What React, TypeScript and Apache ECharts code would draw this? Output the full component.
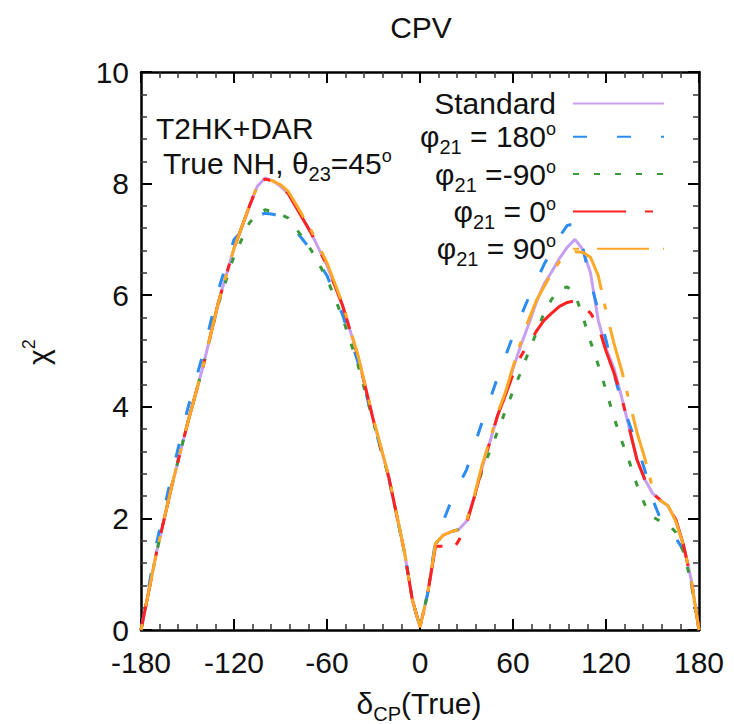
import React, { useEffect, useRef } from "react";
import * as echarts from "echarts";

// δCP (True) sample points, degrees
const deltas = [
  -180, -170, -160, -150, -140, -130, -120, -110, -105, -100, -95, -90, -85, -80,
  -70, -60, -50, -40, -30, -20, -10, -5, 0,
  5, 10, 15, 20, 25, 30, 35, 40, 45, 50, 55, 60, 65, 70, 75, 80, 85, 90, 95, 100,
  105, 110, 115, 120, 125, 130, 135, 140, 145, 150, 155, 160, 165, 170, 175, 180,
];

// Δχ² values for each scenario
const standard = [
  0, 1.39, 2.6, 3.7, 4.72, 5.88, 6.84, 7.6, 7.95, 8.1, 8.05, 7.95, 7.82, 7.58,
  7.1, 6.53, 5.82, 4.9, 3.75, 2.72, 1.39, 0.55, 0.05,
  0.66, 1.55, 1.7, 1.76, 1.8, 1.95, 2.38, 2.9, 3.36, 3.84, 4.22, 4.68, 5.1, 5.47, 5.87, 6.2, 6.42, 6.66, 6.86, 7.0,
  6.82, 6.4, 5.55, 5.05, 4.7, 4.18, 3.62, 3.05, 2.7, 2.45, 2.33, 2.22, 1.98, 1.52, 0.9, 0,
];
const phi180 = [
  0, 1.55, 2.8, 3.95, 4.95, 6.1, 7.0, 7.3, 7.42, 7.47, 7.45, 7.42, 7.3, 7.15,
  6.8, 6.35, 5.65, 4.8, 3.72, 2.7, 1.39, 0.55, 0.05,
  0.66, 1.6, 1.95, 2.3, 2.6, 2.87, 3.3, 3.72, 4.12, 4.52, 4.9, 5.27, 5.62, 5.95, 6.25, 6.55, 6.8, 7.05, 7.25, 7.28,
  6.85, 6.25, 5.72, 5.2, 4.6, 4.1, 3.7, 3.3, 2.87, 2.35, 2.0, 1.83, 1.65, 1.43, 0.85, 0,
];
const phiMinus90 = [
  0, 1.39, 2.6, 3.7, 4.72, 5.85, 6.7, 7.3, 7.45, 7.53, 7.5, 7.45, 7.38, 7.2,
  6.8, 6.3, 5.6, 4.75, 3.72, 2.72, 1.39, 0.55, 0.05,
  0.66, 1.55, 1.7, 1.76, 1.8, 1.95, 2.38, 2.85, 3.2, 3.55, 3.92, 4.28, 4.62, 4.98, 5.32, 5.68, 5.93, 6.1, 6.15, 6.02,
  5.62, 5.17, 4.75, 4.3, 3.82, 3.4, 3.02, 2.6, 2.25, 2.03, 1.95, 1.9, 1.75, 1.4, 0.85, 0,
];
const phi0 = [
  0, 1.39, 2.6, 3.7, 4.72, 5.88, 6.84, 7.6, 7.95, 8.08, 8.05, 7.95, 7.82, 7.58,
  7.1, 6.53, 5.82, 4.9, 3.75, 2.72, 1.39, 0.55, 0.05,
  0.66, 1.5, 1.5, 1.4, 1.6, 1.9, 2.38, 2.9, 3.36, 3.84, 4.2, 4.58, 4.9, 5.13, 5.35, 5.55, 5.68, 5.8, 5.87, 5.9,
  5.8, 5.68, 5.45, 5.0, 4.62, 4.18, 3.62, 3.05, 2.7, 2.45, 2.33, 2.22, 1.98, 1.52, 0.9, 0,
];
const phi90 = [
  0, 1.39, 2.6, 3.7, 4.72, 5.88, 6.84, 7.6, 7.95, 8.06, 8.05, 7.98, 7.86, 7.63,
  7.15, 6.58, 5.85, 4.92, 3.78, 2.74, 1.4, 0.55, 0.05,
  0.66, 1.55, 1.7, 1.76, 1.8, 1.95, 2.4, 2.95, 3.4, 3.88, 4.25, 4.72, 5.15, 5.55, 5.9, 6.15, 6.4, 6.6, 6.75, 6.78,
  6.77, 6.68, 6.35, 5.72, 5.15, 4.66, 4.1, 3.54, 3.08, 2.55, 2.32, 2.23, 1.95, 1.52, 0.9, 0,
];

const seriesNames = ["Standard", "phi180", "phiM90", "phi0", "phi90"];
const legendLabels: Record<string, string> = {
  Standard: "Standard",
  phi180: "φ{sub|21} = 180{sup|o}",
  phiM90: "φ{sub|21} =-90{sup|o}",
  phi0: "φ{sub|21} = 0{sup|o}",
  phi90: "φ{sub|21} = 90{sup|o}",
};

const FONT = "'Liberation Sans', Arial, Helvetica, sans-serif";
const TXT = "#111";

export default function App() {
  const ref = useRef<HTMLDivElement>(null);

  useEffect(() => {
    if (!ref.current) return;
    const chart = echarts.init(ref.current, null, { renderer: "svg" });

    const subSup = {
      sub: { fontSize: 20, fontFamily: FONT, color: TXT, verticalAlign: "top", padding: [17, 0, 0, 0] },
      sup: { fontSize: 18, fontFamily: FONT, color: TXT, verticalAlign: "top" },
    };

    const mk = (arr: number[]) => deltas.map((d, i) => [d, arr[i]]);

    const styles = [
      { color: "#c89ef0", type: "solid" as any },
      { color: "#2b8cf2", type: [14, 30] },
      { color: "#3a9a3a", type: [6, 15] },
      { color: "#ff2020", type: [53, 19, 8, 19] },
      { color: "#ffa826", type: [6, 18, 52, 14] },
    ];
    const dataSets = [standard, phi180, phiMinus90, phi0, phi90];

    const axisLine = { show: true, onZero: false, lineStyle: { color: "#000", width: 2.5 } };
    const axisTick = { show: true, inside: true, length: 11, lineStyle: { color: "#000", width: 2 } };
    const minorTick = { show: true, splitNumber: 5, length: 6, lineStyle: { color: "#333", width: 1.5 } };

    const option: any = {
      animation: false,
      grid: { left: 141, right: 35, top: 72, bottom: 94 },
      xAxis: [
        {
          type: "value", min: -180, max: 180, interval: 60, position: "bottom",
          axisLine, axisTick, minorTick, splitLine: { show: false },
          axisLabel: {
            fontSize: 30, fontFamily: FONT, color: TXT, margin: 32, lineHeight: 24,
            verticalAlign: "middle",
          },
        },
        {
          type: "value", min: -180, max: 180, interval: 60, position: "top",
          axisLine, axisTick, minorTick, splitLine: { show: false },
          axisLabel: { show: false },
        },
      ],
      yAxis: [
        {
          type: "value", min: 0, max: 10, interval: 2, position: "left",
          axisLine, axisTick, minorTick, splitLine: { show: false },
          axisLabel: { fontSize: 30, fontFamily: FONT, color: TXT, margin: 12, lineHeight: 24 },
        },
        {
          type: "value", min: 0, max: 10, interval: 2, position: "right",
          axisLine, axisTick, minorTick, splitLine: { show: false },
          axisLabel: { show: false },
        },
      ],
      legend: {
        orient: "vertical",
        right: 69,
        top: 87,
        align: "right",
        padding: 0,
        itemWidth: 91,
        itemHeight: 12,
        itemGap: 0.3,
        data: seriesNames,
        itemStyle: { opacity: 0 },
        formatter: (name: string) => legendLabels[name],
        textStyle: {
          fontSize: 30, fontFamily: FONT, color: TXT, lineHeight: 33,
          padding: [0, 12, 0, 0],
          rich: subSup,
        },
      },
      series: seriesNames.map((name, i) => ({
        name,
        type: "line",
        xAxisIndex: 0,
        yAxisIndex: 0,
        symbol: "none",
        showSymbol: false,
        data: mk(dataSets[i]),
        lineStyle: { color: styles[i].color, width: 3, type: styles[i].type, cap: "butt" },
        itemStyle: { color: styles[i].color },
        z: 2 + i,
      })),
      graphic: [
        {
          type: "text", x: 421, y: 27,
          style: { text: "CPV", fontSize: 30, fontFamily: FONT, fill: TXT, align: "center", verticalAlign: "middle" },
        },
        {
          type: "text", x: 156, y: 128,
          style: { text: "T2HK+DAR", fontSize: 30, fontFamily: FONT, fill: TXT, align: "left", verticalAlign: "middle" },
        },
        {
          type: "text", x: 163, y: 163,
          style: {
            text: "True NH, θ{sub|23}=45{sup|o}", fontSize: 30, fontFamily: FONT, fill: TXT,
            lineHeight: 33, align: "left", verticalAlign: "middle", rich: subSup,
          },
        },
        {
          type: "text", x: 38, y: 352, rotation: Math.PI / 2,
          style: {
            text: "χ{sup|2}", fontSize: 30, fontFamily: FONT, fill: TXT,
            lineHeight: 36, align: "center", verticalAlign: "middle", rich: subSup,
          },
        },
        {
          type: "text", x: 419, y: 703,
          style: {
            text: "δ{sub|CP}(True)", fontSize: 30, fontFamily: FONT, fill: TXT,
            lineHeight: 33, align: "center", verticalAlign: "middle", rich: subSup,
          },
        },
      ],
    };

    chart.setOption(option);
    return () => chart.dispose();
  }, []);

  return (
    <div
      ref={ref}
      style={{ position: "absolute", left: 0, top: 0, width: 734, height: 724 }}
    />
  );
}
